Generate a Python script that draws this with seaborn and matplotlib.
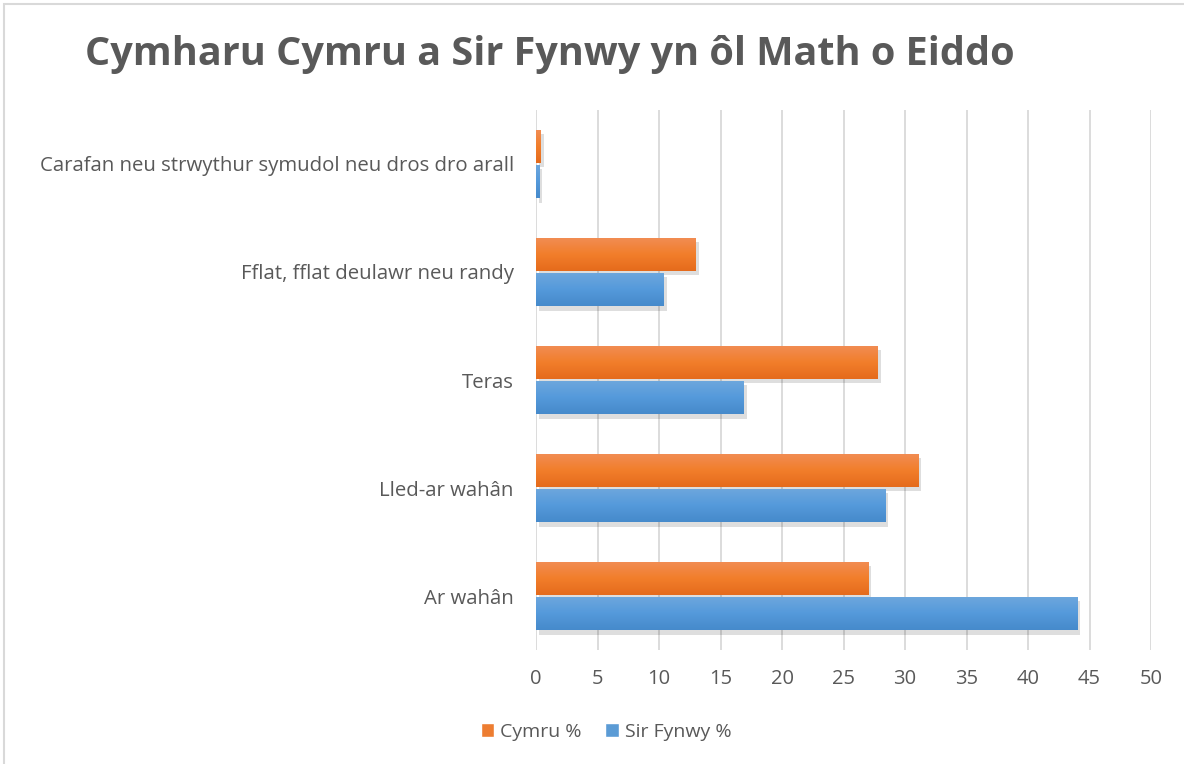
import matplotlib
matplotlib.use("Agg")
import matplotlib.pyplot as plt
import matplotlib.patches as mpatches
import matplotlib.patheffects as pe
import matplotlib.colors as mcolors
import numpy as np
import seaborn as sns
import pandas as pd

categories = ["Carafan neu strwythur symudol neu dros dro arall",
              "Fflat, fflat deulawr neu randy",
              "Teras",
              "Lled-ar wahân",
              "Ar wahân"]
cymru = [0.4, 13.0, 27.8, 31.1, 27.0]
sir_fynwy = [0.25, 10.4, 16.9, 28.4, 44.0]
series_names = ["Cymru %", "Sir Fynwy %"]
xticks = [0, 5, 10, 15, 20, 25, 30, 35, 40, 45, 50]
title = "Cymharu Cymru a Sir Fynwy yn ôl Math o Eiddo"

df = pd.DataFrame({
    "cat": categories * 2,
    "val": cymru + sir_fynwy,
    "series": [series_names[0]] * len(categories) + [series_names[1]] * len(categories),
})

sns.set_theme(style="white")
plt.rcParams['font.family'] = ['Open Sans', 'DejaVu Sans']
txt = "#595959"
colors = {"Cymru %": "#ED7D31", "Sir Fynwy %": "#5B9BD5"}
grads = {"#ED7D31": ["#F18D55", "#F27E2B", "#E56B1C"],
         "#5B9BD5": ["#6EA7DD", "#559ADB", "#468ACB"]}

fig = plt.figure(figsize=(11.84, 7.64), dpi=100)
ax = fig.add_axes([536/1184, 1-650/764, 615/1184, 540/764])

sns.barplot(data=df, y="cat", x="val", hue="series", order=categories,
            hue_order=series_names, palette=colors, orient="h",
            width=0.66, gap=0.07, ax=ax, legend=False, linewidth=0, saturation=1)

ax.set_xlim(0, 50)
ax.set_ylim(4.5, -0.5)
for p in list(ax.patches):
    fc = mcolors.to_hex(p.get_facecolor()).upper()
    p.set_path_effects([pe.SimplePatchShadow(offset=(2, -3), shadow_rgbFace="#000000", alpha=0.13), pe.Normal()])
    if fc in grads:
        cmap = mcolors.LinearSegmentedColormap.from_list("g", grads[fc])
        x0, y0 = p.get_x(), p.get_y()
        w, h = p.get_width(), p.get_height()
        im = ax.imshow(np.linspace(0, 1, 64).reshape(-1, 1), cmap=cmap, aspect="auto",
                       extent=(x0, x0 + w, y0, y0 + h), origin="lower", zorder=p.get_zorder() + 0.1)
        im.set_clip_path(p)
ax.set_xlim(0, 50)
ax.set_ylim(4.5, -0.5)

ax.set_xticks(xticks)
ax.set_xticklabels([str(t) for t in xticks], fontsize=14.5, color=txt)
ax.tick_params(axis='x', length=0, pad=14)
ax.tick_params(axis='y', length=0, pad=16, labelsize=14.7, labelcolor=txt)
ax.set_xlabel("")
ax.set_ylabel("")
ax.grid(axis='x', color="#D9D9D9", linewidth=1.3)
ax.set_axisbelow(True)
for s in ax.spines.values():
    s.set_visible(False)

fig.text(550/1184, 1-55/764, title, ha="center", va="center", fontsize=28.5,
         fontweight="bold", color=txt)

handles = [mpatches.Patch(facecolor=colors[n], label=n) for n in series_names]
fig.legend(handles=handles, loc="center", bbox_to_anchor=(606/1184, 1-732/764), ncol=2,
           frameon=False, fontsize=14, labelcolor=txt, handlelength=0.7, handleheight=0.7,
           handletextpad=0.3, columnspacing=1.2)

fig.patches.append(mpatches.Rectangle((4/1184, -0.01), 1.1, 1-4/764+0.01, transform=fig.transFigure,
                                      fill=False, edgecolor="#D9D9D9", linewidth=1.5))

fig.savefig("out.png", dpi=100)
